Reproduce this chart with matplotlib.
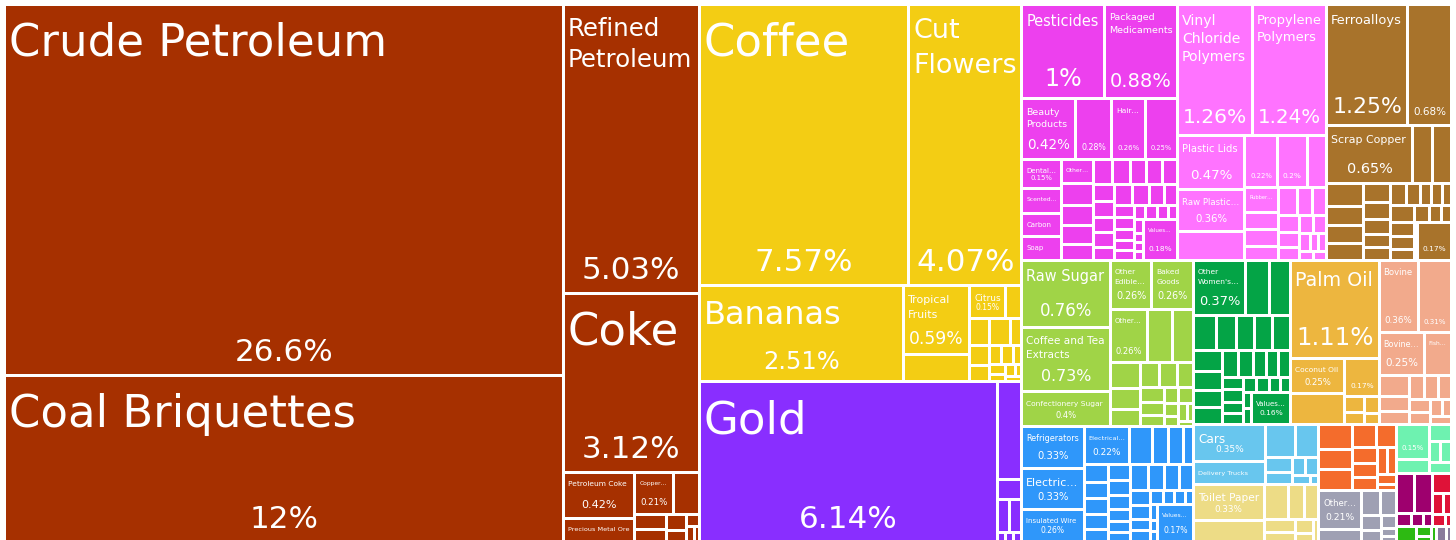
import matplotlib
matplotlib.use("Agg")
import matplotlib.pyplot as plt
from matplotlib.patches import Rectangle
from matplotlib.font_manager import FontProperties

# share of total exports (%), listed in the order they appear in the treemap
# name None = no label, "" = share only
mineral_values = [26.57, 11.96, 5.03, 3.12, 0.42, 0.22, 0.21, 0.14, 0.06, 0.05, 0.04, 0.03, 0.02,
                  0.015, 0.01]
mineral_names = ["Crude Petroleum", "Coal Briquettes", "Refined Petroleum", "Coke",
                 "Petroleum Coke", "Precious Metal Ore", "Copper…"]

vegetable_values = [7.57, 4.07, 2.51, 0.59, 0.23, 0.15, 0.07, 0.07, 0.07, 0.04, 0.05, 0.04,
                    0.03, 0.03, 0.02, 0.02, 0.015, 0.015, 0.01, 0.01]
vegetable_names = ["Coffee", "Cut Flowers", "Bananas", "Tropical Fruits", None, "Citrus"]

precious_values = [6.14, 0.30, 0.06, 0.05, 0.05, 0.01, 0.01, 0.01]
precious_names = ["Gold"]

chemical_values = [1.00, 0.88, 0.42, 0.28, 0.26, 0.25, 0.15, 0.125, 0.12, 0.12, 0.10, 0.09, 0.085,
                   0.08, 0.065, 0.06, 0.06, 0.055, 0.05, 0.05, 0.045, 0.04, 0.04, 0.04, 0.035,
                   0.05, 0.045, 0.04, 0.035, 0.03, 0.03, 0.03, 0.025, 0.025, 0.02, 0.02, 0.02,
                   0.015, 0.015, 0.01, 0.01, 0.01, 0.18]
chemical_names = (["Pesticides", "Packaged Medicaments", "Beauty Products", "", "Hair…", "",
                   "Dental…", "Scented…", "Carbon", "Soap", "Other…"]
                  + [None] * (len(chemical_values) - 12) + ["Values…"])

plastic_values = [1.26, 1.24, 0.47, 0.36, 0.25, 0.22, 0.20, 0.13, 0.11, 0.075, 0.075, 0.06, 0.07,
                  0.055, 0.05, 0.045, 0.04, 0.035, 0.03, 0.03, 0.025, 0.02, 0.02, 0.015, 0.015]
plastic_names = ["Vinyl Chloride Polymers", "Propylene Polymers", "Plastic Lids", "Raw Plastic…",
                 None, "", "", None, "Rubber…"]

metal_values = [1.25, 0.68, 0.65, 0.15, 0.14, 0.11, 0.09, 0.085, 0.08, 0.065, 0.06, 0.05, 0.045,
                0.045, 0.045, 0.04, 0.033, 0.03, 0.026, 0.05, 0.045, 0.04, 0.035, 0.03, 0.025,
                0.02, 0.01, 0.17]
metal_names = ["Ferroalloys", "", "Scrap Copper"] + [None] * (len(metal_values) - 4) + [""]

food_values = [0.76, 0.73, 0.40, 0.26, 0.26, 0.26, 0.17, 0.145, 0.10, 0.08, 0.07, 0.06, 0.055,
               0.05, 0.045, 0.04, 0.035, 0.03, 0.03, 0.025, 0.02, 0.02, 0.015, 0.01]
food_names = ["Raw Sugar", "Coffee and Tea Extracts", "Confectionery Sugar", "Other Edible…",
              "Baked Goods", "Other…"]

machine_values = [0.33, 0.33, 0.26, 0.22, 0.11, 0.08, 0.07, 0.05, 0.055, 0.05, 0.048, 0.045, 0.04,
                  0.045, 0.042, 0.038, 0.035, 0.03, 0.028, 0.06, 0.055, 0.05, 0.045, 0.04, 0.035,
                  0.03, 0.03, 0.025, 0.02, 0.02, 0.015, 0.015, 0.01, 0.01, 0.17]
machine_names = (["Refrigerators", "Electric…", "Insulated Wire", "Electrical…"]
                 + [None] * (len(machine_values) - 5) + ["Values…"])

textile_values = [0.37, 0.166, 0.15, 0.104, 0.089, 0.085, 0.081, 0.08, 0.075, 0.07, 0.065, 0.06,
                  0.055, 0.05, 0.045, 0.04, 0.04, 0.035, 0.035, 0.03, 0.03, 0.025, 0.025, 0.02,
                  0.02, 0.015, 0.015, 0.16]
textile_names = ["Other Women's…"] + [None] * (len(textile_values) - 2) + ["Values…"]

byproduct_values = [1.11, 0.25, 0.21, 0.17, 0.04, 0.03, 0.03, 0.02]
byproduct_names = ["Palm Oil", "Coconut Oil", None, ""]

animal_values = [0.36, 0.31, 0.25, 0.15, 0.08, 0.06, 0.05, 0.045, 0.045, 0.04, 0.035, 0.03,
                 0.025, 0.02, 0.02]
animal_names = ["Bovine", "", "Bovine…", "Fish…"]

transport_values = [0.35, 0.21, 0.13, 0.10, 0.05, 0.04, 0.03, 0.03, 0.02, 0.01]
transport_names = ["Cars", "Delivery Trucks"]

paper_values = [0.33, 0.19, 0.11, 0.075, 0.065, 0.05, 0.04, 0.03, 0.02, 0.015]
paper_names = ["Toilet Paper"]

stone_values = [0.11, 0.09, 0.09, 0.07, 0.06, 0.05, 0.045, 0.04, 0.035, 0.03, 0.025, 0.015]
misc_values = [0.21, 0.07, 0.06, 0.05, 0.04, 0.03, 0.025, 0.015, 0.01]
misc_names = ["Other…"]
hide_values = [0.15, 0.06, 0.05, 0.03, 0.03, 0.03]
hide_names = [""]
instrument_values = [0.095, 0.09, 0.025, 0.02, 0.015]
wood_values = [0.05, 0.03, 0.02, 0.02, 0.01]
footwear_values = [0.04, 0.02, 0.01, 0.01]
arts_values = [0.02, 0.01]

sector_values = [mineral_values, vegetable_values, precious_values, chemical_values,
                 plastic_values, metal_values, food_values, machine_values, textile_values,
                 byproduct_values, animal_values, transport_values, paper_values, stone_values,
                 misc_values, hide_values, instrument_values, wood_values, footwear_values,
                 arts_values]
sector_names = [mineral_names, vegetable_names, precious_names, chemical_names, plastic_names,
                metal_names, food_names, machine_names, textile_names, byproduct_names,
                animal_names, transport_names, paper_names, [], misc_names, hide_names,
                [], [], [], []]
sector_colors = ["#A63000", "#F3CD14", "#892EFF", "#ED40EE", "#FF73FF", "#A8732B", "#A0D447",
                 "#2F97FA", "#04A446", "#EDB63F", "#F2AA8C", "#68C6EE", "#EDDC86", "#F46C2C",
                 "#9FA0B3", "#6EF2B0", "#9E006E", "#DF1238", "#2DBA12", "#8A7B9C"]

W, H = 1456, 540
GAP = 3.0
PHI = (1 + 5 ** 0.5) / 2
FONT = "DejaVu Sans"
plt.rcParams["font.family"] = FONT


def squarify(values, x0, y0, x1, y1, ratio=PHI):
    # port of d3.treemapSquarify, keeps input order
    rects = [None] * len(values)
    total = float(sum(values))
    n = len(values)
    i0 = 0
    while i0 < n:
        dx, dy = x1 - x0, y1 - y0
        i1 = i0 + 1
        s = values[i0]
        lo = hi = s
        alpha = max(dy / dx, dx / dy) / (total * ratio)
        beta = s * s * alpha
        best = max(hi / beta, beta / lo)
        while i1 < n:
            v = values[i1]
            s2 = s + v
            lo2, hi2 = min(lo, v), max(hi, v)
            beta = s2 * s2 * alpha
            r = max(hi2 / beta, beta / lo2)
            if r > best:
                break
            s, lo, hi, best = s2, lo2, hi2, r
            i1 += 1
        if dx < dy:
            yb = y0 + dy * s / total
            xx = x0
            for i in range(i0, i1):
                w = dx * values[i] / s
                rects[i] = (xx, y0, xx + w, yb)
                xx += w
            y0 = yb
        else:
            xb = x0 + dx * s / total
            yy = y0
            for i in range(i0, i1):
                h = dy * values[i] / s
                rects[i] = (x0, yy, xb, yy + h)
                yy += h
            x0 = xb
        total -= s
        i0 = i1
    return rects


fig = plt.figure(figsize=(W / 100, H / 100), dpi=100)
ax = fig.add_axes([0, 0, 1, 1])
ax.set_xlim(0, W)
ax.set_ylim(H, 0)
ax.axis("off")
renderer = fig.canvas.get_renderer()
_widths = {}


def text_w(s, px):
    # width in pixels of s at a font size of px pixels
    if s not in _widths:
        fp = FontProperties(family=FONT, size=72)
        _widths[s] = renderer.get_text_width_height_descent(s, fp, ismath=False)[0] / 100.0
    return _widths[s] * px


def wrap(name, px, avail):
    lines = []
    for word in name.split(" "):
        if text_w(word, px) > avail:
            return None
        if lines and text_w(lines[-1] + " " + word, px) <= avail:
            lines[-1] += " " + word
        else:
            lines.append(word)
    return lines


def fit_name(name, w, h):
    px = 45.0
    while px >= 5:
        lines = wrap(name, px, w - 6)
        if lines and len(lines) * 1.3 * px <= 0.45 * h:
            return px, lines
        px -= 0.5
    return None, None


totals = [sum(v) for v in sector_values]
sector_rects = squarify(totals, 4.5, 4.5, W - 4.5, H + 2)

for vals, names, color, srect in zip(sector_values, sector_names, sector_colors, sector_rects):
    cells = squarify(vals, *srect)
    for i, (v, (x0, y0, x1, y1)) in enumerate(zip(vals, cells)):
        ix, iy = x0 + GAP / 2, y0 + GAP / 2
        w, h = x1 - x0 - GAP, y1 - y0 - GAP
        ax.add_patch(Rectangle((ix, iy), w, h, facecolor=color, edgecolor="none"))
        name = names[i] if i < len(names) else None
        if name is None:
            continue
        if name:
            px, lines = fit_name(name, w, h)
            if px:
                for k, line in enumerate(lines):
                    ax.text(ix + 3, iy + 5 + px * (1 + 1.3 * k), line, color="white",
                            fontsize=px * 0.72, ha="left", va="baseline")
        share = f"{v:.3g}%"
        px = min(31, 0.26 * h, (w - 8) / text_w(share, 1))
        if px >= 6.5:
            ax.text(ix + w / 2, iy + h - (6 + 0.22 * px), share, color="white",
                    fontsize=px * 0.72, ha="center", va="baseline")

fig.savefig("out.png", dpi=100, facecolor="white")
